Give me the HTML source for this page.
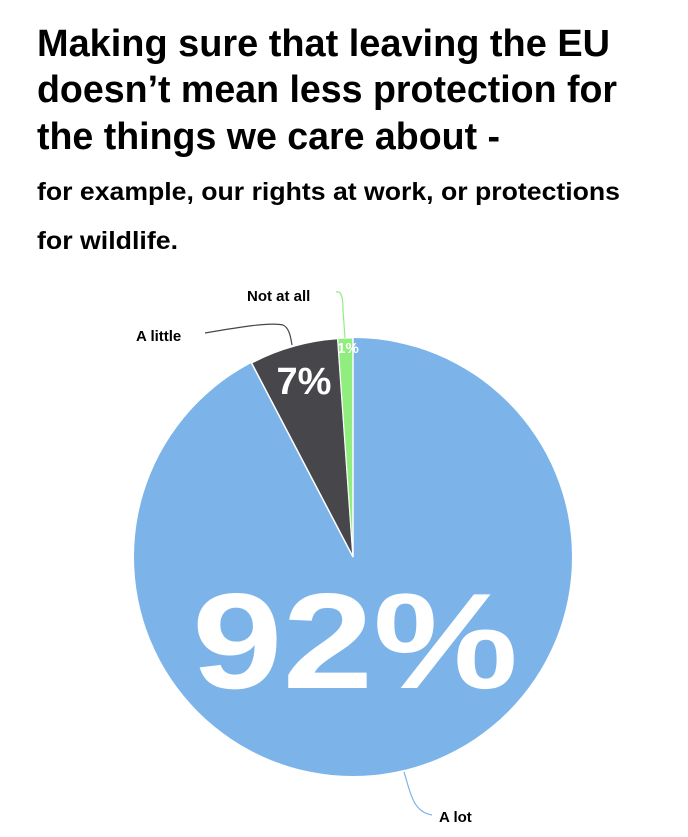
<!DOCTYPE html>
<html><head><meta charset="utf-8"><style>html,body{margin:0;padding:0;background:#fff}svg{display:block}</style></head>
<body>
<svg width="688" height="837" viewBox="0 0 688 837" xmlns="http://www.w3.org/2000/svg" font-family="'Liberation Sans', sans-serif" font-weight="bold">
<g fill="#000">
<text x="37" y="56" font-size="38" textLength="573" lengthAdjust="spacingAndGlyphs">Making sure that leaving the EU</text>
<text x="37" y="102" font-size="38" textLength="580" lengthAdjust="spacingAndGlyphs">doesn’t mean less protection for</text>
<text x="37" y="149" font-size="38" textLength="463" lengthAdjust="spacingAndGlyphs">the things we care about -</text>
<text x="37" y="200" font-size="25" textLength="583" lengthAdjust="spacingAndGlyphs">for example, our rights at work, or protections</text>
<text x="37" y="249" font-size="25" textLength="141" lengthAdjust="spacingAndGlyphs">for wildlife.</text>
</g>
<circle cx="353" cy="557" r="219" fill="#7cb4ea"/>
<path d="M353,557 L251.5,362.9 A219,219 0 0 1 337.7,338.5 Z" fill="#46464b" stroke="#fff" stroke-width="1.5"/>
<path d="M353,557 L337.7,338.5 A219,219 0 0 1 353,338 Z" fill="#90ee7e" stroke="#fff" stroke-width="1"/>
<line x1="353" y1="557" x2="353" y2="338" stroke="#fff" stroke-width="1.5"/>
<path d="M205,333 C240,327 270,322 283,325 C290,328 291,340 292,345" fill="none" stroke="#46464b" stroke-width="1.2"/>
<path d="M336,292 C342,290 343,300 343,310 L345,338" fill="none" stroke="#90ee7e" stroke-width="1.2"/>
<path d="M404,772 C410,790 412,812 432,815" fill="none" stroke="#7cb4ea" stroke-width="1.2"/>
<g font-size="15" fill="#000">
<text x="247" y="301">Not at all</text>
<text x="136" y="341">A little</text>
<text x="439" y="822">A lot</text>
</g>
<text x="304" y="394" font-size="38" fill="#fff" text-anchor="middle">7%</text>
<text x="348" y="353" font-size="15" fill="#fff" text-anchor="middle">1%</text>
<text x="355" y="688" font-size="136" fill="#fff" text-anchor="middle" textLength="326" lengthAdjust="spacingAndGlyphs">92%</text>
</svg>
</body></html>
